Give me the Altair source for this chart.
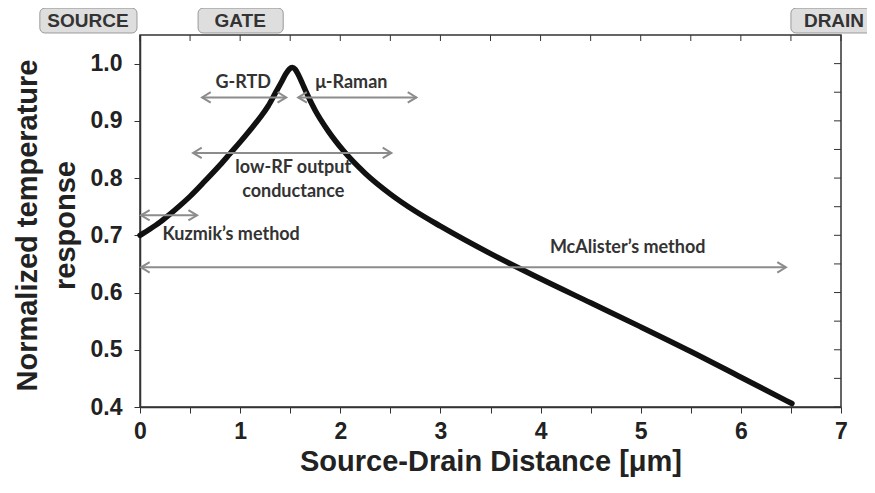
import altair as alt
import pandas as pd

# Curve (Source-Drain distance [um], normalized temperature response)
curve_x = [0.00, 0.10, 0.20, 0.30, 0.40, 0.50, 0.65, 0.80, 0.90, 1.00, 1.10, 1.20,
           1.28, 1.35, 1.41, 1.46, 1.49, 1.52, 1.55, 1.58, 1.62, 1.66, 1.75, 1.88, 2.03, 2.25,
           2.50, 2.75, 3.00, 3.50, 4.00, 4.50, 5.00, 5.50, 6.00, 6.51]
curve_y = [0.700, 0.711, 0.723, 0.737, 0.752, 0.768, 0.795, 0.823, 0.843, 0.863, 0.884, 0.906,
           0.926, 0.948, 0.967, 0.983, 0.990, 0.993, 0.990, 0.981, 0.966, 0.950, 0.918, 0.882, 0.848, 0.808,
           0.772, 0.742, 0.716, 0.668, 0.624, 0.582, 0.540, 0.497, 0.452, 0.406]

# Measurement-range arrows
arrow_name = ["G-RTD", "μ-Raman", "low-RF", "Kuzmik", "McAlister"]
arrow_x1 = [0.62, 1.58, 0.53, 0.01, 0.01]
arrow_x2 = [1.46, 2.76, 2.51, 0.57, 6.45]
arrow_y = [0.941, 0.941, 0.844, 0.735, 0.644]

# Annotation labels
label_text = ["G-RTD", "μ-Raman", "low-RF output", "conductance", "Kuzmik’s method", "McAlister’s method"]
label_x = [1.03, 2.11, 1.53, 1.53, 0.91, 4.87]
label_y = [0.967, 0.967, 0.817, 0.775, 0.701, 0.678]

# Device regions above the plot
region_name = ["SOURCE", "GATE", "DRAIN"]
region_x1 = [-1.00, 0.58, 6.50]
region_x2 = [-0.03, 1.43, 7.60]
region_cx = [-0.52, 1.00, 6.93]
region_y1 = 1.097
region_y2 = 1.0535
region_ty = 1.075

x_ticks = [0, 0.5, 1, 1.5, 2, 2.5, 3, 3.5, 4, 4.5, 5, 5.5, 6, 6.5, 7]
y_ticks = [0.4, 0.45, 0.5, 0.55, 0.6, 0.65, 0.7, 0.75, 0.8, 0.85, 0.9, 0.95, 1.0]

xs = alt.Scale(domain=[0, 7], nice=False, zero=False)
ys = alt.Scale(domain=[0.4, 1.05], nice=False, zero=False)

AX_FONT = "Liberation Sans"
ANN_FONT = "Lato"
GRAY = "#8c8c8c"

x_axis = alt.Axis(values=x_ticks,
                  labelExpr="datum.value % 1 == 0 ? format(datum.value, 'd') : ''",
                  title="Source-Drain Distance [μm]", grid=False, labelFlush=False,
                  tickSize=6, tickColor="#333", domainColor="#333", domainWidth=1.5,
                  labelFont=AX_FONT, labelFontWeight="bold", labelFontSize=23, labelColor="#222",
                  labelPadding=7, titleFont=AX_FONT, titleFontWeight="bold", titleFontSize=29,
                  titleColor="#222", titlePadding=4)
y_axis = alt.Axis(values=y_ticks,
                  labelExpr="abs(datum.value*10 - round(datum.value*10)) < 0.001 ? format(datum.value, '.1f') : ''",
                  title=["Normalized temperature", "response"], grid=False, labelFlush=False,
                  tickSize=6, tickColor="#333", domainColor="#333", domainWidth=1.5,
                  labelFont=AX_FONT, labelFontWeight="bold", labelFontSize=23, labelColor="#222",
                  labelPadding=12, titleFont=AX_FONT, titleFontWeight="bold", titleFontSize=29,
                  titleColor="#222", titlePadding=10, titleLineHeight=38, titleY=190)

curve_df = pd.DataFrame({"x": curve_x, "y": curve_y})
arrow_df = pd.DataFrame({"name": arrow_name, "x": arrow_x1, "x2": arrow_x2, "y": arrow_y})
label_df = pd.DataFrame({"text": label_text, "x": label_x, "y": label_y})
region_df = pd.DataFrame({"name": region_name, "x": region_x1, "x2": region_x2, "cx": region_cx})
xt_df = pd.DataFrame({"x": x_ticks})
yt_df = pd.DataFrame({"y": y_ticks})

curve = alt.Chart(curve_df).mark_line(color="#111", strokeWidth=5.5, interpolate="monotone",
                                      strokeCap="round", strokeJoin="round").encode(
    x=alt.X("x:Q", scale=xs, axis=x_axis), y=alt.Y("y:Q", scale=ys, axis=y_axis))

arrows = alt.Chart(arrow_df).mark_rule(color=GRAY, strokeWidth=2).encode(
    x=alt.X("x:Q", scale=xs), x2="x2:Q", y=alt.Y("y:Q", scale=ys))
heads_r = alt.Chart(arrow_df).mark_point(shape="M-1,-0.6L0,0L-1,0.6", filled=False, stroke=GRAY,
                                         strokeWidth=2, size=300, opacity=1).encode(
    x=alt.X("x2:Q", scale=xs), y=alt.Y("y:Q", scale=ys))
heads_l = alt.Chart(arrow_df).mark_point(shape="M1,-0.6L0,0L1,0.6", filled=False, stroke=GRAY,
                                         strokeWidth=2, size=300, opacity=1).encode(
    x=alt.X("x:Q", scale=xs), y=alt.Y("y:Q", scale=ys))

labels = alt.Chart(label_df).mark_text(font=ANN_FONT, fontWeight="bold", fontSize=18,
                                       color="#333").encode(
    x=alt.X("x:Q", scale=xs), y=alt.Y("y:Q", scale=ys), text="text:N")

top_ticks = alt.Chart(xt_df).mark_rule(color="#333", strokeWidth=1).encode(
    x=alt.X("x:Q", scale=xs), y=alt.datum(1.05), y2=alt.datum(1.0395))
right_ticks = alt.Chart(yt_df).mark_rule(color="#333", strokeWidth=1).encode(
    y=alt.Y("y:Q", scale=ys), x=alt.datum(7.0), x2=alt.datum(6.93))

boxes = alt.Chart(region_df).mark_rect(cornerRadius=5, fill="#dedede", stroke="#9a9a9a",
                                       strokeWidth=1).encode(
    x=alt.X("x:Q", scale=xs), x2="x2:Q",
    y=alt.datum(region_y1), y2=alt.datum(region_y2))
box_text = alt.Chart(region_df).mark_text(font=AX_FONT, fontWeight="bold", fontSize=19,
                                          color="#333").encode(
    x=alt.X("cx:Q", scale=xs), y=alt.datum(region_ty), text="name:N")

chart = alt.layer(curve, arrows, heads_l, heads_r, labels, top_ticks, right_ticks,
                  boxes, box_text).properties(
    width=701, height=372,
    autosize=alt.AutoSizeParams(type="none"),
    padding={"left": 132, "top": 27, "right": 26, "bottom": 70},
    background="white",
).configure_view(stroke="#333", strokeWidth=1.5)

chart.save("out.html", embed_options={"renderer": "svg", "actions": False})
